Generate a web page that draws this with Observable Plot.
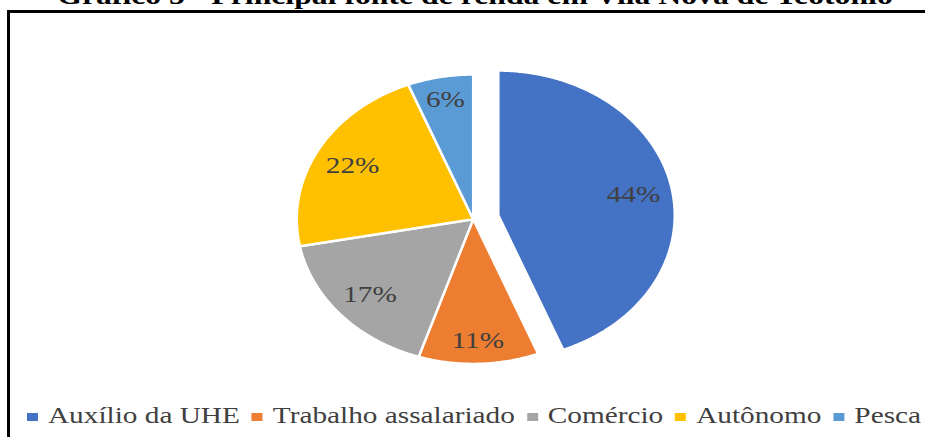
<!DOCTYPE html>
<html><head><meta charset="utf-8">
<script src="https://cdn.jsdelivr.net/npm/d3@7"></script>
<script src="https://cdn.jsdelivr.net/npm/@observablehq/plot@0.6"></script>
<style>
html,body{margin:0;padding:0;background:#fff;overflow:hidden;width:925px;height:437px;}
#wrap{position:relative;width:925px;height:437px;overflow:hidden;}
#wrap svg{position:absolute;left:0;top:0;}
.box{position:absolute;left:7px;top:10px;width:1000px;height:1000px;border:3px solid #000;box-sizing:border-box;}
.title{position:absolute;left:0;top:-16.8px;width:950px;text-align:center;font:bold 26px/26px "Liberation Serif","Times New Roman",serif;color:#000;transform:scaleX(1.22);transform-origin:475px 50%;white-space:nowrap;}
.legend{position:absolute;left:27px;top:403px;display:flex;align-items:center;white-space:nowrap;font:24px/24px "Liberation Serif","Times New Roman",serif;color:#404040;transform:scaleX(1.22);transform-origin:0 50%;}
.item{display:flex;align-items:center;margin-right:9.8px;}
.sw{display:inline-block;width:9px;height:8px;margin-right:8.2px;position:relative;top:2px;}
</style></head><body><div id="wrap"></div>
<script>
const title = "Gráfico 5 - Principal fonte de renda em Vila Nova de Teotônio";
const categories = ["Auxílio da UHE", "Trabalho assalariado", "Comércio", "Autônomo", "Pesca"];
const values = [44, 11, 17, 22, 6];
const labels = ["44%", "11%", "17%", "22%", "6%"];
const colors = ["#4472C4", "#ED7D31", "#A5A5A5", "#FFC000", "#5B9BD5"];
const explode = [0.145, 0, 0, 0, 0];

const STRETCH = 1.22;
const CX = 472.7, CY = 218.7, RX = 176.4, RY = 144.7;

const arcs = d3.pie().sort(null).value(d => d)(values);
const slices = [];
const labelPts = [];
const total = d3.sum(values);
arcs.forEach((a, i) => {
  const mid = (a.startAngle + a.endAngle) / 2;
  const ox = explode[i] * Math.sin(mid), oy = explode[i] * Math.cos(mid);
  const pts = [{x: ox, y: oy}];
  const n = Math.max(2, Math.ceil((a.endAngle - a.startAngle) / (Math.PI / 360)));
  for (let k = 0; k <= n; k++) {
    const t = a.startAngle + (a.endAngle - a.startAngle) * k / n;
    pts.push({x: ox + Math.sin(t), y: oy + Math.cos(t)});
  }
  pts.push({x: ox, y: oy});
  pts.forEach(p => slices.push({...p, cat: categories[i]}));
  const share = values[i] / total;
  const lr = share >= 0.15 ? 0.78 : 0.84;
  labelPts.push({x: ox + lr * Math.sin(mid), y: oy + lr * Math.cos(mid), label: labels[i]});
});

const chart = Plot.plot({
  width: 925, height: 437, margin: 0,
  style: {background: "transparent"},
  x: {domain: [-1, 1], range: [CX - RX, CX + RX], axis: null},
  y: {domain: [-1, 1], range: [CY + RY, CY - RY], axis: null},
  color: {domain: categories, range: colors},
  marks: [
    Plot.line(slices, {x: "x", y: "y", z: "cat", fill: "cat", stroke: "white", strokeWidth: 2.5, strokeLinejoin: "round", curve: "linear"}),
    Plot.text(labelPts, {x: "x", y: "y", text: "label", fontSize: 24, fontFamily: "Liberation Serif", fill: "#404040"})
  ]
});

chart.querySelectorAll("text").forEach(t => {
  const tr = t.getAttribute("transform");
  if (tr) {
    t.setAttribute("transform", tr + ` scale(${STRETCH},1)`);
  } else {
    const x = +t.getAttribute("x") || 0, y = +t.getAttribute("y") || 0;
    t.removeAttribute("x"); t.removeAttribute("y");
    t.setAttribute("transform", `translate(${x},${y}) scale(${STRETCH},1)`);
  }
});

const wrap = document.getElementById("wrap");
wrap.appendChild(chart);
const box = document.createElement("div");
box.className = "box";
wrap.appendChild(box);
const t = document.createElement("div");
t.className = "title";
t.textContent = title;
wrap.appendChild(t);
const leg = document.createElement("div");
leg.className = "legend";
categories.forEach((c, i) => {
  const it = document.createElement("span");
  it.className = "item";
  const sw = document.createElement("span");
  sw.className = "sw";
  sw.style.background = colors[i];
  it.append(sw, document.createTextNode(c));
  leg.append(it);
});
wrap.appendChild(leg);
</script>
</body></html>
